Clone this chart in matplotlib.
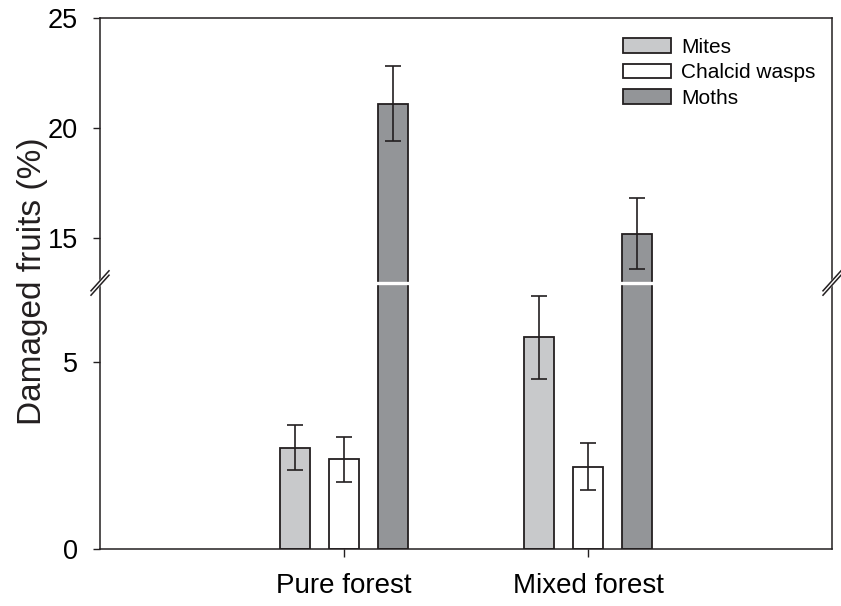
import matplotlib.pyplot as plt
import numpy as np

plt.rcParams['font.family'] = ['Liberation Sans', 'DejaVu Sans']

groups = ['Pure forest', 'Mixed forest']
series = ['Mites', 'Chalcid wasps', 'Moths']
values = {
    'Mites': [2.7, 5.65],
    'Chalcid wasps': [2.4, 2.2],
    'Moths': [21.1, 15.2],
}
errors = {
    'Mites': [0.6, 1.1],
    'Chalcid wasps': [0.6, 0.62],
    'Moths': [1.7, 1.6],
}
colors = {'Mites': '#c8c9cb', 'Chalcid wasps': '#ffffff', 'Moths': '#939598'}

ink = '#231f20'
W, H = 841, 606
fig = plt.figure(figsize=(W / 100, H / 100), dpi=100)

left, right = 100 / W, 832 / W
y_bot, y_brk, y_top = 1 - 549 / H, 1 - 283 / H, 1 - 18 / H
ax_lo = fig.add_axes([left, y_bot, right - left, y_brk - y_bot])
ax_hi = fig.add_axes([left, y_brk, right - left, y_top - y_brk])

x = np.arange(len(groups))
width = 0.123
offsets = [-0.2, 0, 0.2]

for ax in (ax_lo, ax_hi):
    for s, off in zip(series, offsets):
        ax.bar(x + off, values[s], width, color=colors[s], edgecolor=ink,
               linewidth=1.3, label=s, zorder=1)
        ax.errorbar(x + off, values[s], yerr=errors[s], fmt='none', ecolor=ink,
                    elinewidth=1.2, capsize=6, capthick=1.2, zorder=3)
    ax.set_xlim(-1, 2)
    for sp in ax.spines.values():
        sp.set_color(ink)
        sp.set_linewidth(1.1)
    ax.tick_params(axis='y', direction='out', length=5, width=1, color=ink,
                   labelsize=19.5, pad=11, right=False)

ax_lo.set_ylim(0, 7.1)
ax_lo.set_yticks([0, 5])
ax_lo.spines['top'].set_visible(False)
ax_lo.set_xticks(x)
ax_lo.set_xticklabels(groups, fontsize=20)
ax_lo.tick_params(axis='x', direction='out', length=6, width=1, color=ink, pad=11)

ax_hi.set_ylim(12.95, 25)
ax_hi.set_yticks([15, 20, 25])
ax_hi.spines['bottom'].set_visible(False)
ax_hi.set_xticks([])

# white gap across the bars at the break
ax_hi.axhline(12.95, color='white', linewidth=2.4, clip_on=False, zorder=4)

# break marks on both spines
dx, dy = 9 / W, 10 / H
for xs in (left, right):
    fig.add_artist(plt.Line2D([xs - dx, xs + dx], [y_brk - dy, y_brk + dy],
                              color='white', linewidth=3.5, transform=fig.transFigure))
    for sh in (-2.2 / H, 2.2 / H):
        fig.add_artist(plt.Line2D([xs - dx, xs + dx], [y_brk - dy + sh, y_brk + dy + sh],
                                  color=ink, linewidth=1.1, transform=fig.transFigure))

fig.text(33 / W, 1 - 281.5 / H, 'Damaged fruits (%)', rotation=90,
         ha='center', va='center', fontsize=24, color=ink)

handles, labels = ax_hi.get_legend_handles_labels()
fig.legend(handles, labels, loc='upper left', bbox_to_anchor=(623 / W, 1 - 38 / H),
           frameon=False, fontsize=15, handlelength=2.3, handleheight=0.72,
           handletextpad=0.5, labelspacing=0.3, borderpad=0, borderaxespad=0)

plt.savefig('out.png', dpi=100)
